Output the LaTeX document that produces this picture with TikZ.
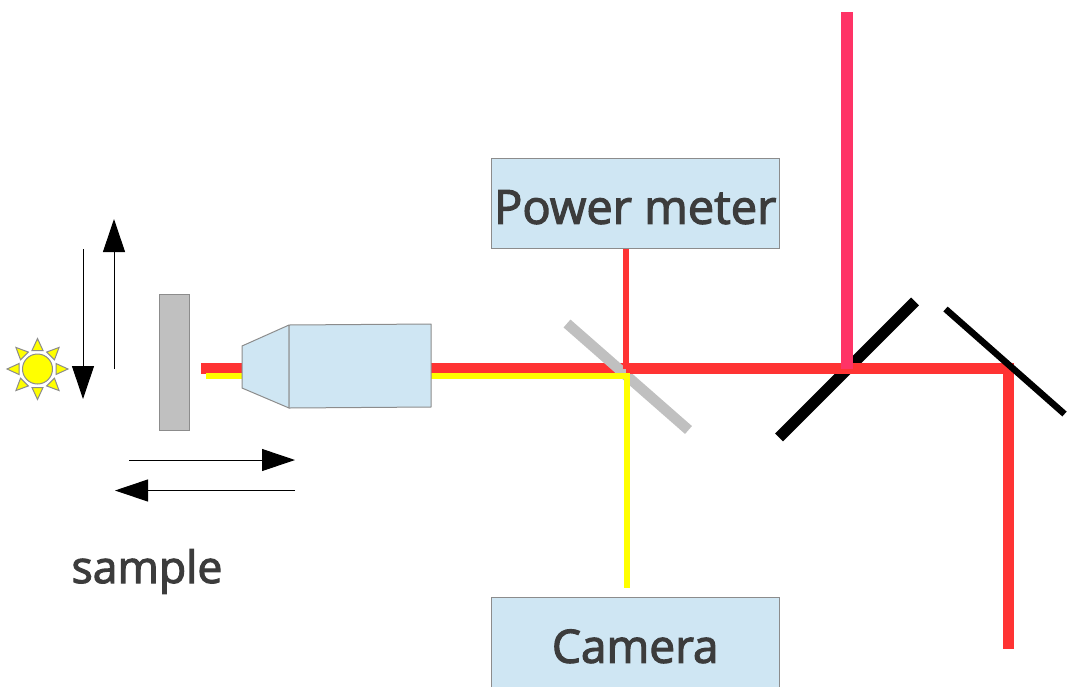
\documentclass[tikz,border=0pt]{standalone}
\usepackage{xcolor}
\usepackage{fontspec}
\newfontfamily\labelfont[FakeBold=2.5]{Open Sans}
\usetikzlibrary{arrows.meta, positioning}
\definecolor{beamRed}{HTML}{FF3333}
\definecolor{beamPink}{HTML}{FF3366}
\definecolor{beamYellow}{HTML}{FFFF00}
\definecolor{boxBlue}{HTML}{CFE6F3}
\definecolor{mirrorGrey}{HTML}{C0C0C0}
\definecolor{edgeGrey}{HTML}{8C8C8C}
\definecolor{labelDark}{HTML}{3C3C3C}
\tikzstyle{box} = [rectangle, minimum width=287.5pt, minimum height=90.5pt, inner sep=0pt, outer sep=0pt, text centered, text height=41pt, text depth=0pt, draw=edgeGrey, fill=boxBlue, line width=1pt, text=labelDark, font=\labelfont\fontsize{47}{50}\selectfont]
\tikzstyle{arrow} = [line width=1pt, draw=black, -{Triangle[length=33pt,width=22pt]}]
\tikzstyle{part} = [draw=edgeGrey, line width=1pt, fill=boxBlue, line join=round]
\tikzstyle{ray} = [draw=edgeGrey, line width=1pt, fill=beamYellow]

\begin{document}
\begin{tikzpicture}[x=1pt, y=-1pt]

\clip (0,0) rectangle (1067,686);

\node (power) [box] at (635.25,203.25) {Power meter};
\node (camera) [box, below=348.5pt of power, font=\labelfont\fontsize{46}{50}\selectfont] {Camera};
\node (sample) [rectangle, minimum width=30pt, minimum height=136pt, inner sep=0pt, draw=edgeGrey, fill=mirrorGrey, line width=1pt] at (174,362) {};
\node (samplelabel) [text=labelDark, font=\labelfont\fontsize{44.5}{50}\selectfont, anchor=base] at (147,583) {sample};
\node (sun) [circle, minimum size=30pt, inner sep=0pt, ray] at (37.5,369) {};

\foreach \a in {0,45,...,315}
  \draw [ray, shift={(sun.center)}, rotate=\a] (18.5,-5.5) -- (30.5,0) -- (18.5,5.5) -- cycle;

\coordinate (redstart) at (201,368.5);
\coordinate (yellowstart) at (206,376);
\coordinate (tap) at (626,368.5);
\coordinate (split) at (627,376);
\coordinate (yellowend) at (627,588);
\coordinate (fold) at (1008.5,368.5);
\coordinate (redend) at (1008.5,649);
\coordinate (pinkstart) at (847,12);
\coordinate (pinkend) at (847,368.5);

\draw [black, line width=11pt] (915,301.5) -- (779,437.5);
\draw [beamRed, line width=11.5pt] (redstart) -- (tap);
\draw [mirrorGrey, line width=10.5pt] (567,323.5) -- (688.5,430);

\draw [beamRed, line width=11.5pt] (tap) -- (fold) -- (redend);
\draw [beamRed, line width=6pt] (tap) -- (tap |- power.south);
\draw [beamYellow, line width=6.5pt] (yellowstart) -- (split) -- (yellowend);
\draw [black, line width=6.5pt] (945.5,309) -- (1064.5,414);
\draw [beamPink, line width=12pt] (pinkstart) -- (pinkend);

\draw [part] (242,346) -- (289,325) -- (289,408) -- (242,388) -- cycle;
\draw [part] (289,325) -- (431,324) -- (431,407) -- (289,408) -- cycle;

\draw [arrow] (83,249) -- (83,399);
\draw [arrow] (114,369) -- (114,219);
\draw [arrow] (129,460) -- (295,460);
\draw [arrow] (295,490.5) -- (115,490.5);

\end{tikzpicture}
\end{document}
